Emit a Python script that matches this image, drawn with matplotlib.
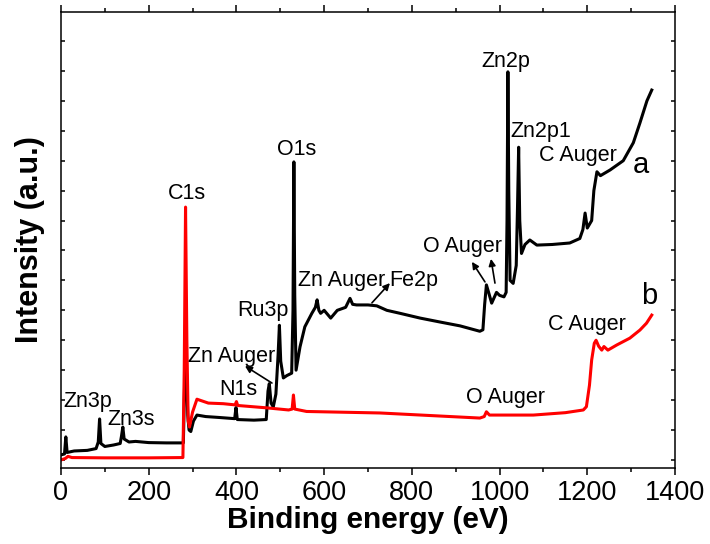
import matplotlib
matplotlib.use("Agg")
import matplotlib.pyplot as plt
from matplotlib.ticker import MultipleLocator, NullFormatter

plt.rcParams['font.family'] = ['Liberation Sans', 'DejaVu Sans']

# curve a (black)
energy_a = [0, 8, 11, 14, 30, 60, 80, 85, 88, 91, 100, 120, 135, 138, 141, 144,
            155, 170, 200, 240, 279, 284, 289, 292, 296, 302, 310, 330, 360,
            396, 399, 402, 440, 468, 472, 475, 479, 484, 490, 495, 498, 501,
            507, 515, 526, 529, 531, 533, 536, 545, 556, 572, 580, 584, 588,
            592, 600, 615, 630, 649, 659, 665, 674, 700, 720, 743, 773, 819,
            864, 910, 955, 962, 966, 970, 975, 982, 993, 1000, 1010, 1015,
            1017, 1019, 1021, 1024, 1031, 1038, 1041, 1043.5, 1046, 1050,
            1058, 1069, 1085, 1120, 1160, 1183, 1190, 1195, 1200, 1210, 1215,
            1222, 1230, 1252, 1282, 1305, 1320, 1336, 1347]
counts_a = [0.17, 0.2, 0.77, 0.25, 0.3, 0.32, 0.38, 0.6, 1.37, 0.55, 0.45, 0.5,
            0.55, 0.8, 1.1, 0.7, 0.6, 0.62, 0.58, 0.57, 0.57, 4.0, 1.5, 1.0,
            0.95, 1.3, 1.5, 1.45, 1.42, 1.38, 1.75, 1.35, 1.33, 1.35, 2.3,
            2.55, 1.9, 1.77, 2.2, 3.5, 4.5, 3.3, 2.74, 2.82, 2.9, 5.0, 9.96,
            5.5, 3.0, 3.78, 4.45, 4.9, 5.1, 5.35, 5.0, 4.9, 5.0, 4.74, 5.0,
            5.1, 5.4, 5.2, 5.18, 5.18, 5.15, 5.0, 4.9, 4.74, 4.61, 4.48, 4.3,
            4.35, 5.2, 5.85, 5.6, 5.24, 5.6, 5.5, 5.45, 5.6, 8.0, 12.97, 9.0,
            6.0, 5.9, 6.5, 8.5, 10.45, 8.0, 6.9, 7.2, 7.35, 7.18, 7.2, 7.25,
            7.4, 7.7, 8.25, 7.75, 8.0, 9.0, 9.63, 9.5, 9.69, 10.0, 10.6,
            11.26, 12.0, 12.36]

# curve b (red)
energy_b = [0, 10, 16, 25, 100, 200, 278, 281, 284, 287, 290, 293, 300, 310,
            336, 370, 397, 400, 403, 470, 519, 527, 530, 533, 560, 727, 955,
            965, 970, 977, 1000, 1077, 1150, 1191, 1198, 1205, 1210, 1216,
            1220, 1226, 1233, 1238, 1247, 1267, 1297, 1320, 1335, 1347]
counts_b = [0.0, 0.05, 0.12, 0.08, 0.07, 0.07, 0.08, 3.0, 8.45, 4.0, 1.3, 1.1,
            1.6, 2.03, 1.9, 1.88, 1.84, 1.95, 1.82, 1.74, 1.67, 1.7, 2.17, 1.7,
            1.62, 1.57, 1.4, 1.45, 1.61, 1.5, 1.5, 1.5, 1.58, 1.67, 1.78, 2.5,
            3.34, 3.9, 4.0, 3.8, 3.67, 3.79, 3.67, 3.84, 4.07, 4.34, 4.57, 4.84]

# peak labels: text, x, y
labels = [("Zn3p", 61.6, 1.94), ("Zn3s", 160.7, 1.34), ("C1s", 287, 8.92),
          ("O1s", 538, 10.39), ("N1s", 403.6, 2.34), ("Zn Auger", 390, 3.45),
          ("Ru3p", 460.5, 4.98), ("Zn Auger", 640.7, 6.01), ("Fe2p", 804.8, 6.01),
          ("O Auger", 916.5, 7.12), ("Zn2p", 1014.6, 13.3), ("Zn2p1", 1094, 10.96),
          ("C Auger", 1178.7, 10.19), ("C Auger", 1199, 4.51),
          ("O Auger", 1014.6, 2.1)]
# arrows: tail (on curve) -> head
arrows = [((481, 2.57), (419.5, 3.14)), ((709, 5.25), (750, 5.91)),
          ((966.7, 5.95), (937, 6.62)), ((989.5, 5.91), (980.4, 6.72))]

fig = plt.figure(figsize=(7.1, 5.44), dpi=100)
ax = fig.add_axes([0.0859, 0.1402, 0.8648, 0.8378])

ax.plot(energy_a, counts_a, color='black', lw=2.2)
ax.plot(energy_b, counts_b, color='#ff0000', lw=2.2)

for txt, x, y in labels:
    ax.text(x, y, txt, fontsize=15.5, ha='center', va='center')
ax.text(1322.4, 9.86, "a", fontsize=21, ha='center', va='center')
ax.text(1340.6, 5.48, "b", fontsize=21, ha='center', va='center')

for tail, head in arrows:
    ax.annotate("", xy=head, xytext=tail,
                arrowprops=dict(arrowstyle='-|>', color='black', lw=1.2,
                                mutation_scale=10, shrinkA=0, shrinkB=0))

ax.set_xlim(0, 1400)
ax.set_ylim(-0.26, 14.97)
ax.xaxis.set_major_locator(MultipleLocator(200))
ax.xaxis.set_minor_locator(MultipleLocator(100))
ax.yaxis.set_major_locator(MultipleLocator(1))
ax.yaxis.set_major_formatter(NullFormatter())
ax.tick_params(axis='x', which='both', direction='out', top=True, labelsize=19.5,
               width=1.1, pad=4)
ax.tick_params(axis='x', which='major', length=5)
ax.tick_params(axis='x', which='minor', length=3)
ax.tick_params(axis='y', which='both', direction='in', right=True, length=3,
               width=1.1)
for s in ax.spines.values():
    s.set_linewidth(1.1)

ax.set_xlabel("Binding energy (eV)", fontsize=21.5, fontweight='bold', labelpad=0)
ax.set_ylabel("Intensity (a.u.)", fontsize=22, fontweight='bold', labelpad=8)

fig.savefig("out.png", dpi=100)
